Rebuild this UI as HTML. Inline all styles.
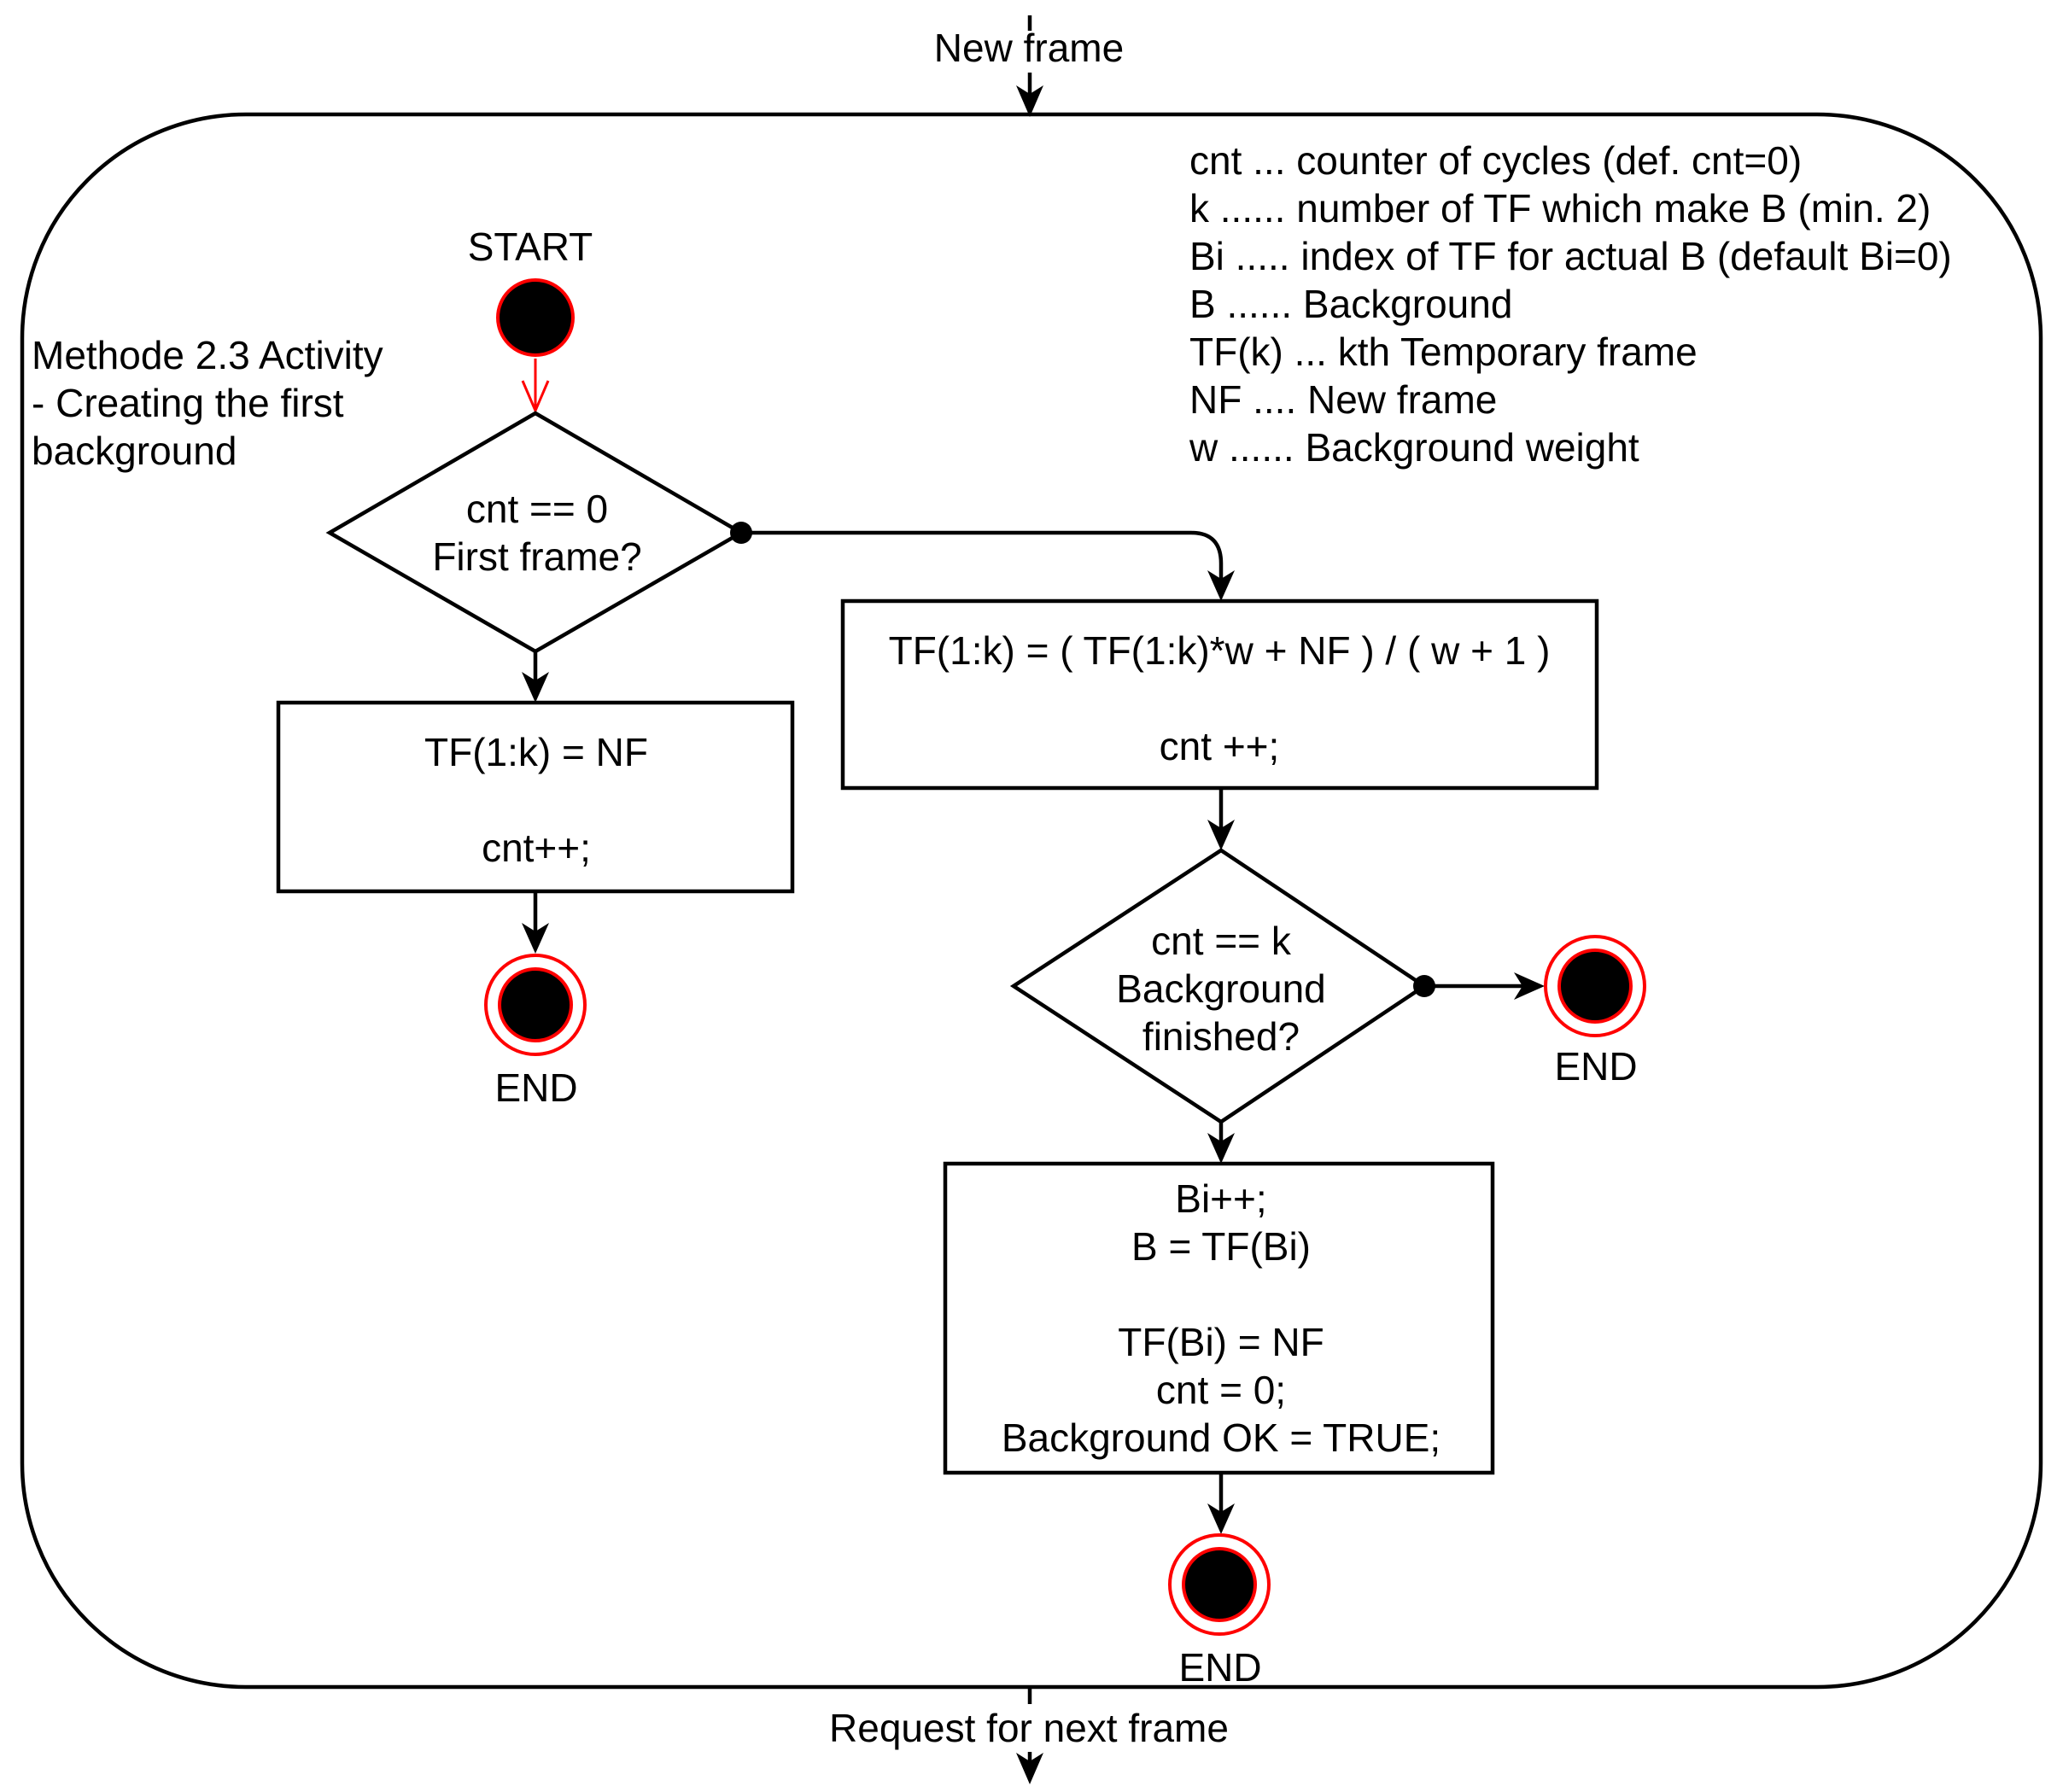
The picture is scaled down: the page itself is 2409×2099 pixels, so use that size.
<!DOCTYPE html>
<html><head><meta charset="utf-8"><style>
html,body{margin:0;padding:0;background:#fff;}
svg{display:block;}
text{font-family:"Liberation Sans",Arial,sans-serif;font-size:46px;fill:#000;}
</style></head><body>
<svg width="2409" height="2099" viewBox="0 0 2409 2099" xmlns="http://www.w3.org/2000/svg">
<!-- outer rounded box -->
<rect x="26" y="134" width="2364" height="1842" rx="262" ry="262" fill="none" stroke="#000" stroke-width="4.5"/>
<!-- New frame -->
<line x1="1206" y1="18" x2="1206" y2="36" stroke="#000" stroke-width="4.5"/>
<line x1="1206" y1="85" x2="1206" y2="120" stroke="#000" stroke-width="4.5"/>
<polygon points="1206,137 1190,100 1206,110 1222,100" fill="#000"/>
<text x="1205" y="72" text-anchor="middle">New frame</text>
<!-- legend -->
<g>
<text x="1393" y="204">cnt ... counter of cycles (def. cnt=0)</text>
<text x="1393" y="260">k ...... number of TF which make B  (min. 2)</text>
<text x="1393" y="316">Bi ..... index of TF for actual B (default Bi=0)</text>
<text x="1393" y="372">B ...... Background</text>
<text x="1393" y="428">TF(k) ... kth Temporary frame</text>
<text x="1393" y="484">NF .... New frame</text>
<text x="1393" y="540">w ...... Background weight</text>
</g>
<!-- title -->
<text x="37" y="432">Methode 2.3 Activity</text>
<text x="37" y="488">- Creating the first</text>
<text x="37" y="544">background</text>
<!-- start -->
<text x="621" y="305" text-anchor="middle">START</text>
<circle cx="627" cy="372" r="44" fill="#000" stroke="#f00" stroke-width="4"/>
<line x1="627" y1="420" x2="627" y2="480" stroke="#f00" stroke-width="3"/>
<polyline points="612,446 627,481 642,446" fill="none" stroke="#f00" stroke-width="3"/>
<!-- diamond1 -->
<polygon points="627,484 868,624 627,763 386,624" fill="#fff" stroke="#000" stroke-width="4.5"/>
<text x="629" y="612" text-anchor="middle">cnt == 0</text>
<text x="629" y="668" text-anchor="middle">First frame?</text>
<circle cx="868" cy="624" r="13" fill="#000"/>
<path d="M868,624 H1395 Q1430,624 1430,660 V690" fill="none" stroke="#000" stroke-width="4.5"/>
<polygon points="1430,704 1414,668 1430,678 1446,668" fill="#000"/>
<!-- arrow d1 to box1 -->
<line x1="627" y1="763" x2="627" y2="810" stroke="#000" stroke-width="4.5"/>
<polygon points="627,823 611,787 627,797 643,787" fill="#000"/>
<!-- box1 -->
<rect x="326" y="823" width="602" height="221" fill="#fff" stroke="#000" stroke-width="4.5"/>
<text x="628" y="897" text-anchor="middle">TF(1:k) = NF</text>
<text x="628" y="1009" text-anchor="middle">cnt++;</text>
<line x1="627" y1="1044" x2="627" y2="1105" stroke="#000" stroke-width="4.5"/>
<polygon points="627,1117 611,1081 627,1091 643,1081" fill="#000"/>
<circle cx="627" cy="1177" r="58" fill="#fff" stroke="#f00" stroke-width="4"/>
<circle cx="627" cy="1177" r="42" fill="#000" stroke="#f00" stroke-width="4"/>
<text x="628" y="1290" text-anchor="middle">END</text>
<!-- box2 -->
<rect x="987" y="704" width="883" height="219" fill="#fff" stroke="#000" stroke-width="4.5"/>
<text x="1428" y="778" text-anchor="middle">TF(1:k) = ( TF(1:k)*w + NF ) / ( w + 1 )</text>
<text x="1428" y="890" text-anchor="middle">cnt ++;</text>
<line x1="1430" y1="923" x2="1430" y2="984" stroke="#000" stroke-width="4.5"/>
<polygon points="1430,996 1414,960 1430,970 1446,960" fill="#000"/>
<!-- diamond2 -->
<polygon points="1430,996 1668,1155 1430,1314 1187,1155" fill="#fff" stroke="#000" stroke-width="4.5"/>
<text x="1430" y="1118" text-anchor="middle">cnt == k</text>
<text x="1430" y="1174" text-anchor="middle">Background</text>
<text x="1430" y="1230" text-anchor="middle">finished?</text>
<circle cx="1668" cy="1155" r="13" fill="#000"/>
<line x1="1668" y1="1155" x2="1795" y2="1155" stroke="#000" stroke-width="4.5"/>
<polygon points="1809,1155 1773,1139 1783,1155 1773,1171" fill="#000"/>
<circle cx="1868" cy="1155" r="58" fill="#fff" stroke="#f00" stroke-width="4"/>
<circle cx="1868" cy="1155" r="42" fill="#000" stroke="#f00" stroke-width="4"/>
<text x="1869" y="1265" text-anchor="middle">END</text>
<line x1="1430" y1="1314" x2="1430" y2="1350" stroke="#000" stroke-width="4.5"/>
<polygon points="1430,1363 1414,1327 1430,1337 1446,1327" fill="#000"/>
<!-- box3 -->
<rect x="1107" y="1363" width="641" height="362" fill="#fff" stroke="#000" stroke-width="4.5"/>
<text x="1430" y="1420" text-anchor="middle">Bi++;</text>
<text x="1430" y="1476" text-anchor="middle">B = TF(Bi)</text>
<text x="1430" y="1588" text-anchor="middle">TF(Bi) = NF</text>
<text x="1430" y="1644" text-anchor="middle">cnt = 0;</text>
<text x="1430" y="1700" text-anchor="middle">Background OK = TRUE;</text>
<line x1="1430" y1="1725" x2="1430" y2="1784" stroke="#000" stroke-width="4.5"/>
<polygon points="1430,1797 1414,1761 1430,1771 1446,1761" fill="#000"/>
<circle cx="1428" cy="1856" r="58" fill="#fff" stroke="#f00" stroke-width="4"/>
<circle cx="1428" cy="1856" r="42" fill="#000" stroke="#f00" stroke-width="4"/>
<text x="1429" y="1969" text-anchor="middle">END</text>
<!-- bottom -->
<line x1="1206" y1="1976" x2="1206" y2="1996" stroke="#000" stroke-width="4.5"/>
<text x="1205" y="2040" text-anchor="middle">Request for next frame</text>
<line x1="1206" y1="2052" x2="1206" y2="2075" stroke="#000" stroke-width="4.5"/>
<polygon points="1206,2090 1190,2053 1206,2063 1222,2053" fill="#000"/>
</svg>
</body></html>
